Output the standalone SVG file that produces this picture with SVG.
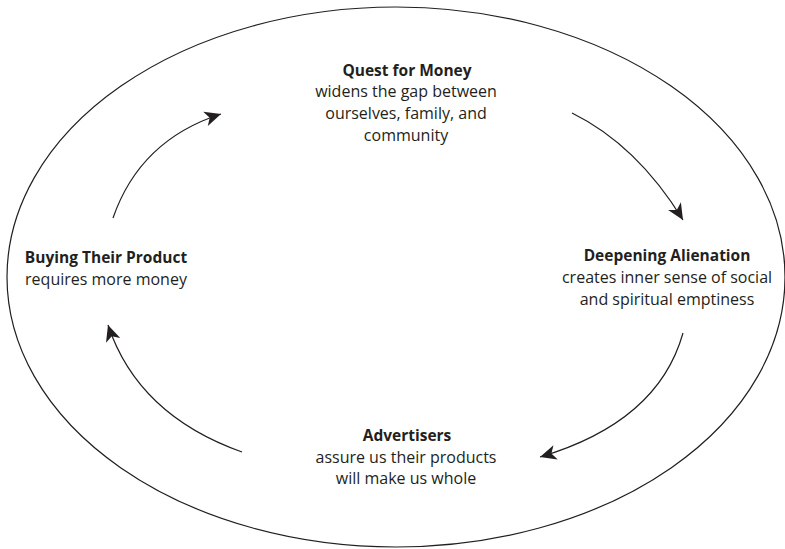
<svg xmlns="http://www.w3.org/2000/svg" width="785" height="549" viewBox="0 0 785 549">
<style>
.t{font-family:"Open Sans","Noto Sans","Liberation Sans",sans-serif;font-size:16px;fill:#231f20;text-anchor:middle}
.b{font-weight:bold;font-size:15.5px}
.c{fill:none;stroke:#231f20;stroke-width:1.2}
</style>
<defs>
<marker id="ah" markerUnits="userSpaceOnUse" markerWidth="20" markerHeight="20" refX="0" refY="0" viewBox="-14 -8 16 16" orient="auto">
<path d="M0,0 L-13,-6 L-9.5,0 L-13,6 Z" fill="#231f20"/>
</marker>
</defs>
<rect width="785" height="549" fill="#fff"/>
<ellipse id="boundary" cx="396" cy="277" rx="389" ry="270" fill="none" stroke="#231f20" stroke-width="1.2"/>
<g id="connectors">
<path class="c" d="M113,218 Q140,140 221,114" marker-end="url(#ah)"/>
<path class="c" d="M572,113 Q637,145 683,220" marker-end="url(#ah)"/>
<path class="c" d="M683,333 Q658,422 540,457" marker-end="url(#ah)"/>
<path class="c" d="M242,452 Q138,415 108,325" marker-end="url(#ah)"/>
</g>
<g id="quest">
<text class="t b" x="407" y="76">Quest for Money</text>
<text class="t" x="406" y="97">widens the gap between</text>
<text class="t" x="406" y="119">ourselves, family, and</text>
<text class="t" x="406" y="141">community</text>
</g>
<g id="alienation">
<text class="t b" x="667" y="261">Deepening Alienation</text>
<text class="t" x="667" y="283">creates inner sense of social</text>
<text class="t" x="667" y="305">and spiritual emptiness</text>
</g>
<g id="advertisers">
<text class="t b" x="407" y="441">Advertisers</text>
<text class="t" x="406" y="463">assure us their products</text>
<text class="t" x="406" y="484">will make us whole</text>
</g>
<g id="buying">
<text class="t b" x="106" y="263">Buying Their Product</text>
<text class="t" x="106" y="285">requires more money</text>
</g>
</svg>
